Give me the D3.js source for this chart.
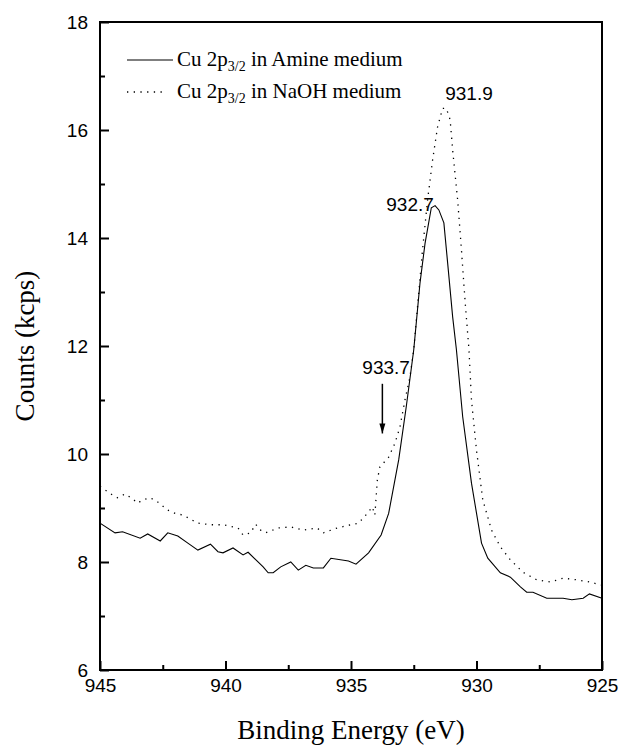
<!DOCTYPE html>
<html>
<head>
<meta charset="utf-8">
<title>Cu 2p3/2 XPS</title>
<script src="https://cdn.jsdelivr.net/npm/d3@7"></script>
<style>
  body { margin: 0; background: #fff; }
  .tick text { font: 19px "Liberation Sans", Arial, sans-serif; fill: #000; }
  .tick line { stroke: #000; stroke-width: 2px; }
  .title { font-family: "Liberation Serif", "Times New Roman", serif; font-size: 27px; fill: #000; }
  .legend text { font-family: "Liberation Serif", "Times New Roman", serif; font-size: 21px; fill: #000; }
  .note { font: 19px "Liberation Sans", Arial, sans-serif; fill: #000; }
</style>
</head>
<body>
<svg id="chart" width="621" height="745"></svg>
<script>
// Cu 2p3/2 in Amine medium (solid)
var amineEnergy = [945.0, 944.4, 944.1, 943.4, 943.1, 942.6, 942.3, 941.9, 941.5, 941.1,
  940.6, 940.3, 940.1, 939.7, 939.3, 939.1, 938.5, 938.3, 938.1, 937.8,
  937.4, 937.1, 936.8, 936.5, 936.1, 935.8, 935.1, 934.8, 934.3, 933.8,
  933.5, 933.1, 932.8, 932.5, 932.25, 932.05, 931.8, 931.65, 931.5, 931.3,
  931.15, 930.95, 930.8, 930.55, 930.2, 929.8, 929.55, 929.05, 928.65, 928.25,
  928.0, 927.75, 927.2, 926.55, 926.2, 925.75, 925.5, 925.0];
var amineCounts = [8.72, 8.54, 8.56, 8.44, 8.52, 8.39, 8.54, 8.48, 8.35, 8.22,
  8.33, 8.19, 8.17, 8.26, 8.13, 8.18, 7.91, 7.80, 7.80, 7.91,
  8.00, 7.85, 7.94, 7.89, 7.89, 8.07, 8.02, 7.96, 8.17, 8.50,
  8.90, 9.89, 10.87, 11.93, 13.17, 13.90, 14.56, 14.60, 14.52, 14.28,
  13.54, 12.54, 11.93, 10.69, 9.46, 8.35, 8.07, 7.80, 7.72, 7.54,
  7.44, 7.44, 7.33, 7.33, 7.30, 7.33, 7.41, 7.33];

// Cu 2p3/2 in NaOH medium (dotted)
var naohEnergy = [945.0, 944.5, 944.3, 944.0, 943.7, 943.5, 943.3, 943.0, 942.7, 942.3,
  942.0, 941.7, 941.1, 940.6, 940.1, 939.5, 939.3, 939.0, 938.8, 938.6,
  938.4, 937.9, 937.4, 936.9, 936.35, 936.1, 935.55, 935.0, 934.7, 934.35,
  934.15, 934.05, 933.95, 933.85, 933.5, 933.25, 933.05, 932.85, 932.65, 932.5,
  932.15, 931.95, 931.75, 931.55, 931.35, 931.2, 931.05, 930.95, 930.75, 930.6,
  930.45, 930.3, 930.2, 930.0, 929.75, 929.4, 929.05, 928.65, 928.15, 927.6,
  927.05, 926.55, 926.0, 925.5, 925.0];
var naohCounts = [9.40, 9.24, 9.19, 9.26, 9.17, 9.09, 9.15, 9.19, 9.11, 8.96,
  8.90, 8.87, 8.72, 8.69, 8.69, 8.63, 8.50, 8.54, 8.70, 8.59,
  8.54, 8.63, 8.65, 8.59, 8.63, 8.54, 8.63, 8.69, 8.72, 8.90,
  9.02, 8.87, 9.52, 9.76, 9.94, 10.20, 10.50, 11.00, 11.43, 11.93,
  13.78, 14.70, 15.44, 16.06, 16.40, 16.40, 16.19, 15.63, 14.70, 13.78,
  12.80, 11.93, 11.00, 10.07, 9.15, 8.59, 8.28, 8.04, 7.81, 7.67,
  7.63, 7.70, 7.67, 7.63, 7.57];

var xTicks = [945, 940, 935, 930, 925];
var xMinor = [942.5, 937.5, 932.5, 927.5];
var yTicks = [6, 8, 10, 12, 14, 16, 18];
var yMinor = [7, 9, 11, 13, 15, 17];

var seriesNames = ["in Amine medium", "in NaOH medium"];
var peakLabels = ["931.9", "932.7", "933.7"];

var svg = d3.select("#chart"),
    margin = {top: 22, right: 19, bottom: 75, left: 100},
    width = +svg.attr("width") - margin.left - margin.right,
    height = +svg.attr("height") - margin.top - margin.bottom;

var g = svg.append("g").attr("transform", "translate(" + margin.left + "," + margin.top + ")");

var x = d3.scaleLinear().domain([945, 925]).range([0, width]);
var y = d3.scaleLinear().domain([6, 18]).range([height, 0]);

// minor ticks first, then major with labels
g.append("g").attr("transform", "translate(0," + height + ")")
  .call(d3.axisBottom(x).tickValues(xMinor).tickSize(-5).tickSizeOuter(0).tickFormat(""))
  .call(function(a) { a.select(".domain").remove(); });
g.append("g").attr("transform", "translate(0," + height + ")")
  .call(d3.axisBottom(x).tickValues(xTicks).tickSize(-9).tickSizeOuter(0).tickPadding(9).tickFormat(d3.format("d")))
  .call(function(a) { a.select(".domain").remove(); });

g.append("g")
  .call(d3.axisLeft(y).tickValues(yMinor).tickSize(-5).tickSizeOuter(0).tickFormat(""))
  .call(function(a) { a.select(".domain").remove(); });
g.append("g")
  .call(d3.axisLeft(y).tickValues(yTicks).tickSize(-9).tickSizeOuter(0).tickPadding(12).tickFormat(d3.format("d")))
  .call(function(a) { a.select(".domain").remove(); });

// frame
g.append("rect")
  .attr("width", width).attr("height", height)
  .attr("fill", "none").attr("stroke", "#000").attr("stroke-width", 2);

var line = d3.line()
  .x(function(d) { return x(d[0]); })
  .y(function(d) { return y(d[1]); });

g.append("path")
  .datum(d3.zip(amineEnergy, amineCounts))
  .attr("d", line)
  .attr("fill", "none").attr("stroke", "#000").attr("stroke-width", 1.1);

g.append("path")
  .datum(d3.zip(naohEnergy, naohCounts))
  .attr("d", line)
  .attr("fill", "none").attr("stroke", "#000").attr("stroke-width", 1.3)
  .attr("stroke-dasharray", "1.3,5.4");

// legend
var legend = svg.append("g").attr("class", "legend");
[0, 1].forEach(function(i) {
  var ly = 60 + i * 32;
  legend.append("line")
    .attr("x1", 127).attr("x2", i === 0 ? 173 : 167)
    .attr("y1", ly).attr("y2", ly)
    .attr("stroke", "#000").attr("stroke-width", i === 0 ? 1.1 : 1.3)
    .attr("stroke-dasharray", i === 0 ? null : "1.3,5.4");
  var t = legend.append("text").attr("x", 177).attr("y", ly + 6);
  t.append("tspan").text("Cu 2p");
  t.append("tspan").attr("dy", 5).attr("font-size", 14).text("3/2");
  t.append("tspan").attr("dy", -5).text(" " + seriesNames[i]);
});

// peak annotations
svg.append("text").attr("class", "note").attr("text-anchor", "middle")
  .attr("x", margin.left + x(930.3)).attr("y", margin.top + y(16.55)).text(peakLabels[0]);
svg.append("text").attr("class", "note").attr("text-anchor", "end")
  .attr("x", margin.left + x(931.7)).attr("y", margin.top + y(14.5)).text(peakLabels[1]);
svg.append("text").attr("class", "note").attr("text-anchor", "middle")
  .attr("x", margin.left + x(933.6)).attr("y", margin.top + y(11.48)).text(peakLabels[2]);

svg.append("defs").append("marker")
  .attr("id", "head").attr("viewBox", "0 0 10 10")
  .attr("refX", 10).attr("refY", 5)
  .attr("markerWidth", 10).attr("markerHeight", 10)
  .attr("markerUnits", "userSpaceOnUse")
  .attr("orient", "auto")
  .append("path").attr("d", "M0,2 L10,5 L0,8 Z").attr("fill", "#000");

g.append("line")
  .attr("x1", x(933.75)).attr("x2", x(933.75))
  .attr("y1", y(11.3)).attr("y2", y(10.38))
  .attr("stroke", "#000").attr("stroke-width", 1.5)
  .attr("marker-end", "url(#head)");

// axis titles
svg.append("text").attr("class", "title").attr("text-anchor", "middle")
  .attr("x", margin.left + width / 2).attr("y", 739)
  .text("Binding Energy (eV)");
svg.append("text").attr("class", "title").attr("text-anchor", "middle")
  .attr("transform", "translate(34," + (margin.top + height / 2) + ") rotate(-90)")
  .text("Counts (kcps)");
</script>
</body>
</html>
